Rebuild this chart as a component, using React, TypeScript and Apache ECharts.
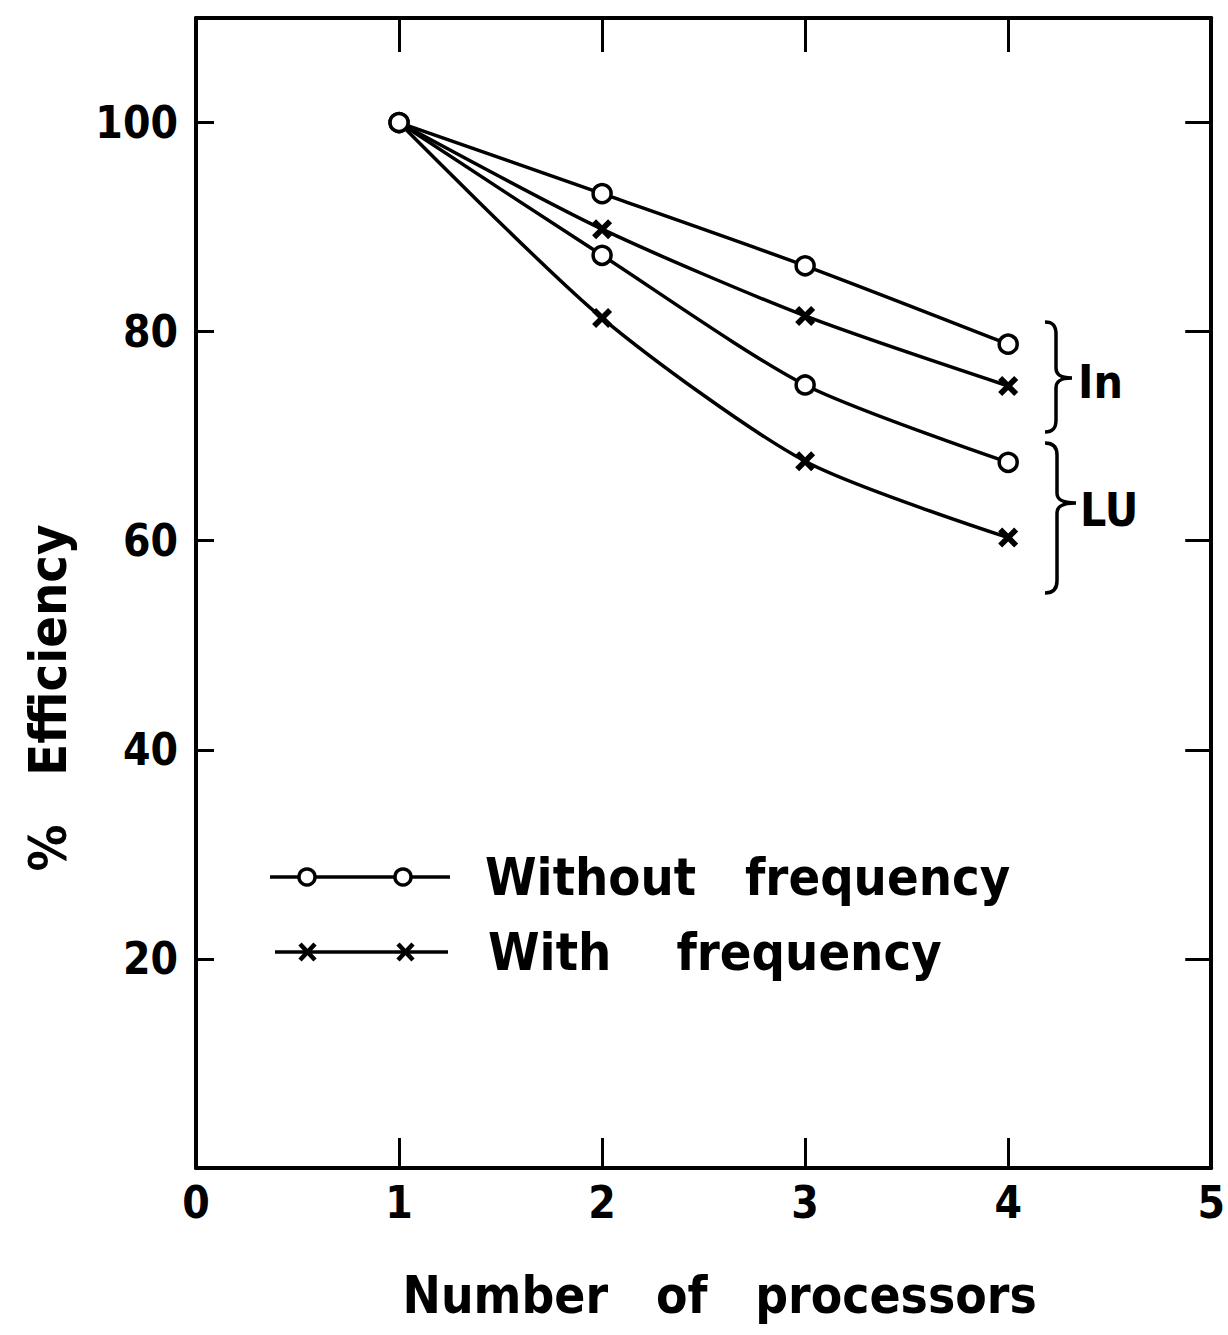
import React, { useEffect, useRef } from "react";
import * as echarts from "echarts";

const processors = [1, 2, 3, 4];
const inWithout = [100, 93.2, 86.3, 78.8];
const inWith = [100, 89.8, 81.5, 74.8];
const luWithout = [100, 87.3, 74.9, 67.5];
const luWith = [100, 81.3, 67.6, 60.3];
const xTicks = [0, 1, 2, 3, 4, 5];
const yTicks = [0, 20, 40, 60, 80, 100];

const FONT = "'DejaVu Sans Condensed', 'DejaVu Sans'";
const CROSS = "path://M0,2 L2,0 L5,3 L8,0 L10,2 L7,5 L10,8 L8,10 L5,7 L2,10 L0,8 L3,5 Z";

echarts.graphic.registerShape(
  "braceIn",
  echarts.graphic.extendPath(
    "M0,0 C8,0 11,4 11,12 L11,46 C11,52 14,56 27,56 C14,56 11,60 11,66 L11,98 C11,106 8,110 0,110",
    {}
  )
);
echarts.graphic.registerShape(
  "braceLU",
  echarts.graphic.extendPath(
    "M0,0 C8,0 12,4 12,12 L12,50 C12,56 16,60 31,60 C16,60 12,64 12,70 L12,138 C12,146 8,150 0,150",
    {}
  )
);

export default function App() {
  const ref = useRef<HTMLDivElement>(null);
  useEffect(() => {
    const chart = echarts.init(ref.current!, null, { renderer: "svg" });
    const mk = (name: string, ys: number[], circle: boolean) => ({
      name,
      type: "line",
      smooth: 0.25,
      xAxisIndex: 0,
      yAxisIndex: 0,
      data: processors.map((p, i) =>
        !circle && i === 0 ? { value: [p, ys[i]], symbol: "none" } : [p, ys[i]]
      ),
      symbol: circle ? "circle" : CROSS,
      symbolSize: circle ? 18 : 20,
      showSymbol: true,
      lineStyle: { color: "#000", width: 3.5 },
      itemStyle: circle
        ? { color: "#fff", borderColor: "#000", borderWidth: 3.5 }
        : { color: "#000", borderWidth: 0 },
      z: circle ? 4 : 3,
    });
    const tickLabel = { fontFamily: FONT, fontWeight: "bold", fontSize: 44, color: "#000" };
    const line = { onZero: false, lineStyle: { color: "#000", width: 4 } };
    chart.setOption({
      animation: false,
      backgroundColor: "#fff",
      grid: { left: 196, right: 16, top: 18, bottom: 167 },
      xAxis: [
        {
          type: "value",
          min: xTicks[0],
          max: xTicks[xTicks.length - 1],
          interval: 1,
          position: "bottom",
          name: "Number   of   processors",
          nameLocation: "middle",
          nameGap: 102,
          nameTextStyle: {
            fontFamily: FONT, fontWeight: "bold", fontSize: 51, color: "#000",
            padding: [0, 0, 0, 32],
          },
          axisLine: line,
          axisTick: { inside: true, length: 30, lineStyle: { color: "#000", width: 3 } },
          axisLabel: { ...tickLabel, margin: 12 },
          splitLine: { show: false },
        },
        {
          type: "value",
          min: xTicks[0],
          max: xTicks[xTicks.length - 1],
          interval: 1,
          position: "top",
          axisLine: line,
          axisTick: { inside: true, length: 34, lineStyle: { color: "#000", width: 3 } },
          axisLabel: { show: false },
          splitLine: { show: false },
        },
      ],
      yAxis: [
        {
          type: "value",
          min: yTicks[0],
          max: 110,
          interval: 20,
          position: "left",
          name: "%   Efficiency",
          nameLocation: "middle",
          nameGap: 122,
          nameTextStyle: {
            fontFamily: FONT, fontWeight: "bold", fontSize: 52, color: "#000",
            padding: [0, 210, 0, 0],
          },
          axisLine: line,
          axisTick: { inside: true, length: 18, lineStyle: { color: "#000", width: 3 } },
          axisLabel: { ...tickLabel, margin: 18, showMinLabel: false, showMaxLabel: false },
          splitLine: { show: false },
        },
        {
          type: "value",
          min: yTicks[0],
          max: 110,
          interval: 20,
          position: "right",
          axisLine: line,
          axisTick: { inside: true, length: 26, lineStyle: { color: "#000", width: 3 } },
          axisLabel: { show: false },
          splitLine: { show: false },
        },
      ],
      series: [
        mk("In, without frequency", inWithout, true),
        mk("In, with frequency", inWith, false),
        mk("LU, without frequency", luWithout, true),
        mk("LU, with frequency", luWith, false),
      ],
      graphic: [
        { type: "line", shape: { x1: 270, y1: 877, x2: 450, y2: 877 }, style: { stroke: "#000", lineWidth: 3.5 } },
        { type: "circle", shape: { cx: 307, cy: 877, r: 8 }, style: { fill: "#fff", stroke: "#000", lineWidth: 3.5 } },
        { type: "circle", shape: { cx: 403, cy: 877, r: 8 }, style: { fill: "#fff", stroke: "#000", lineWidth: 3.5 } },
        {
          type: "text", x: 485, y: 877,
          style: { text: "Without   frequency", fontFamily: FONT, fontWeight: "bold", fontSize: 52, fill: "#000", verticalAlign: "middle" },
        },
        { type: "line", shape: { x1: 275, y1: 952, x2: 448, y2: 952 }, style: { stroke: "#000", lineWidth: 3.5 } },
        { type: "line", shape: { x1: 300, y1: 944, x2: 315, y2: 960 }, style: { stroke: "#000", lineWidth: 4.5 } },
        { type: "line", shape: { x1: 315, y1: 944, x2: 300, y2: 960 }, style: { stroke: "#000", lineWidth: 4.5 } },
        { type: "line", shape: { x1: 398, y1: 944, x2: 413, y2: 960 }, style: { stroke: "#000", lineWidth: 4.5 } },
        { type: "line", shape: { x1: 413, y1: 944, x2: 398, y2: 960 }, style: { stroke: "#000", lineWidth: 4.5 } },
        {
          type: "text", x: 488, y: 952,
          style: { text: "With    frequency", fontFamily: FONT, fontWeight: "bold", fontSize: 52, fill: "#000", verticalAlign: "middle" },
        },
        { type: "braceIn", x: 1045, y: 322, style: { fill: "none", stroke: "#000", lineWidth: 3.5 } },
        {
          type: "text", x: 1078, y: 382,
          style: { text: "In", fontFamily: FONT, fontWeight: "bold", fontSize: 46, fill: "#000", verticalAlign: "middle" },
        },
        { type: "braceLU", x: 1045, y: 443, style: { fill: "none", stroke: "#000", lineWidth: 3.5 } },
        {
          type: "text", x: 1080, y: 510,
          style: { text: "LU", fontFamily: FONT, fontWeight: "bold", fontSize: 46, fill: "#000", verticalAlign: "middle" },
        },
      ],
    });
    return () => chart.dispose();
  }, []);
  return (
    <div
      ref={ref}
      style={{ position: "absolute", left: 0, top: 0, width: 1228, height: 1335 }}
    />
  );
}
